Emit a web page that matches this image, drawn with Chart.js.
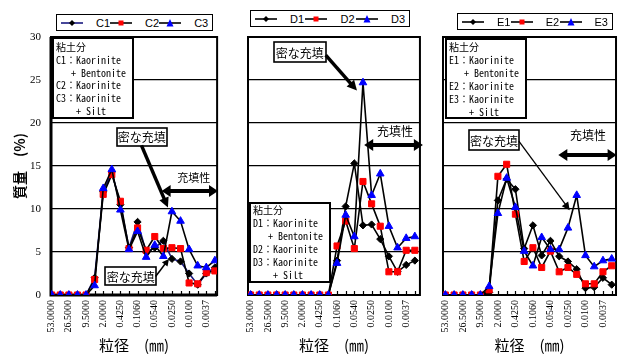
<!DOCTYPE html>
<html lang="ja">
<head>
<meta charset="utf-8">
<title>粒径分布</title>
<script src="https://cdn.jsdelivr.net/npm/chart.js@4.4.1/dist/chart.umd.min.js"></script>
<style>
  html, body { margin: 0; padding: 0; background: #fff; }
  #wrap { position: relative; width: 629px; height: 354px; overflow: hidden; background: #fff; }
  canvas { position: absolute; top: 0; }
  .legend { position: absolute; height: 17px; box-sizing: border-box; border: 1.5px solid #000; background: #fff;
            display: flex; align-items: center; justify-content: space-between; padding: 0 4px;
            font: 11px "Liberation Sans", Arial, sans-serif; color: #000; }
  .legend .item { display: flex; align-items: center; }
  .legend svg { margin-right: 13px; display: block; }
</style>
</head>
<body>
<div id="wrap">
  <canvas id="cvC" width="232" height="354" style="left:0"></canvas>
  <canvas id="cvD" width="200" height="354" style="left:232px"></canvas>
  <canvas id="cvE" width="197" height="354" style="left:432px"></canvas>
  <div class="legend" id="legC" style="left:56px;top:14px;width:157px"></div>
  <div class="legend" id="legD" style="left:250px;top:10px;width:160px"></div>
  <div class="legend" id="legE" style="left:457px;top:13px;width:156px"></div>
</div>
<script>
// Sieve / hydrometer size classes (mm); every second class carries a label
const sizeLabels = ['53.0000', '', '26.5000', '', '9.5000', '', '2.0000', '', '0.4250', '',
                    '0.1060', '', '0.0540', '', '0.0250', '', '0.0100', '', '0.0037', ''];
const massTicks = [0, 5, 10, 15, 20, 25, 30];

// Mass fraction (%) per size class
const namesC = ['C1', 'C2', 'C3'];
const C1 = [0, 0, 0, 0, 0, 2.0, 12.0, 14.3, 10.5, 5.5, 8.5, 5.0, 5.5, 6.3, 4.2, 3.9, 2.5, 1.2, 2.5, 3.2];
const C2 = [0, 0, 0, 0, 0, 1.8, 11.7, 14.0, 10.9, 5.4, 7.8, 5.2, 6.8, 5.4, 5.5, 5.4, 1.4, 1.3, 2.6, 2.8];
const C3 = [0, 0, 0, 0, 0, 1.1, 12.4, 14.6, 9.9, 5.3, 7.4, 4.4, 5.8, 4.5, 9.7, 8.6, 5.3, 3.4, 3.2, 4.0];

const namesD = ['D1', 'D2', 'D3'];
const D1 = [0, 0, 0, 0, 0, 0, 0, 0, 0, 0, 4.0, 10.3, 15.3, 8.1, 8.2, 6.5, 4.5, 2.7, 3.5, 4.0];
const D2 = [0, 0, 0, 0, 0, 0, 0, 0, 0, 0, 5.7, 8.6, 5.4, 13.2, 10.6, 8.0, 2.7, 2.7, 5.2, 5.2];
const D3 = [0, 0, 0, 0, 0, 0, 0, 0, 0, 0, 3.7, 9.3, 6.8, 24.7, 11.6, 14.1, 8.0, 5.5, 6.6, 6.8];

const namesE = ['E1', 'E2', 'E3'];
const E1 = [0, 0, 0, 0, 0, 0.3, 11.0, 13.5, 12.3, 5.4, 8.1, 4.6, 6.3, 4.5, 3.9, 3.0, 0.8, 0.9, 2.0, 1.2];
const E2 = [0, 0, 0, 0, 0, 0.6, 13.8, 15.2, 9.4, 3.9, 5.5, 3.2, 5.1, 2.7, 3.2, 2.4, 1.3, 1.3, 2.7, 3.4];
const E3 = [0, 0, 0, 0, 0, 1.0, 9.5, 13.6, 10.2, 5.1, 3.4, 6.7, 5.3, 5.3, 7.8, 11.6, 4.6, 3.3, 4.0, 4.2];

const MARK = [
  { fill: '#000000', shape: 'rectRot', r: 3.6 },
  { fill: '#ff0000', shape: 'rect', r: 4.3 },
  { fill: '#0000ff', shape: 'triangle', r: 4.4 }
];

function makeDatasets(names, series, firstLine) {
  return names.map((name, k) => ({
    label: name,
    data: series[k].map((v, i) => ({ x: i, y: v })),
    borderColor: k === 0 ? firstLine : '#000000',
    borderWidth: 1.6,
    pointStyle: MARK[k].shape,
    pointRadius: MARK[k].r,
    pointBackgroundColor: MARK[k].fill,
    pointBorderColor: MARK[k].fill,
    pointBorderWidth: 1,
    tension: 0,
    order: 3 - k
  }));
}

// ---- HTML legend built from the datasets ----
function sampleSvg(ds, k) {
  let mark = '';
  if (ds.pointStyle === 'rectRot') mark = `<polygon points="11,2 14,5 11,8 8,5" fill="${ds.pointBackgroundColor}"/>`;
  else if (ds.pointStyle === 'rect') mark = `<rect x="8.5" y="2.5" width="5" height="5" fill="${ds.pointBackgroundColor}"/>`;
  else mark = `<polygon points="11,1 14.5,8.5 7.5,8.5" fill="${ds.pointBackgroundColor}"/>`;
  return `<svg width="22" height="10" viewBox="0 0 22 10"><line x1="0" y1="5" x2="22" y2="5" stroke="${ds.borderColor}" stroke-width="1.6"/>${mark}</svg>`;
}
const htmlLegend = {
  id: 'htmlLegend',
  afterUpdate(chart, args, opts) {
    const box = document.getElementById(opts.containerID);
    if (!box) return;
    box.innerHTML = '';
    chart.data.datasets.forEach((ds, k) => {
      const item = document.createElement('div');
      item.className = 'item';
      item.innerHTML = sampleSvg(ds, k) + `<span>${ds.label}</span>`;
      box.appendChild(item);
    });
  }
};

// ---- plot frame and inward category ticks ----
const frame = {
  id: 'frame',
  beforeDatasetsDraw(chart, args, o) {
    const { ctx, chartArea: a, scales: { x } } = chart;
    ctx.save();
    ctx.strokeStyle = '#000';
    ctx.lineWidth = 2;
    ctx.strokeRect(a.left, a.top, a.right - a.left, a.bottom - a.top);
    ctx.lineWidth = o.axisWidth;
    ctx.beginPath();
    ctx.moveTo(a.left, a.top); ctx.lineTo(a.left, a.bottom); ctx.lineTo(a.right, a.bottom);
    ctx.stroke();
    ctx.lineWidth = 1.2;
    ctx.beginPath();
    x.ticks.forEach(t => {
      const px = Math.round(x.getPixelForValue(t.value)) + 0.5;
      ctx.moveTo(px, a.bottom); ctx.lineTo(px, a.bottom - 4);
    });
    ctx.stroke();
    ctx.restore();
  }
};

// ---- callouts: text boxes and arrows placed in axis units ----
function head(ctx, x0, y0, x1, y1, L, W) {
  const ang = Math.atan2(y1 - y0, x1 - x0);
  ctx.save();
  ctx.translate(x1, y1); ctx.rotate(ang);
  ctx.beginPath(); ctx.moveTo(0, 0); ctx.lineTo(-L, W); ctx.lineTo(-L, -W); ctx.closePath(); ctx.fill();
  ctx.restore();
}
function shaft(ctx, x0, y0, x1, y1, lw, L) {
  const ang = Math.atan2(y1 - y0, x1 - x0);
  ctx.lineWidth = lw;
  ctx.beginPath();
  ctx.moveTo(x0, y0);
  ctx.lineTo(x1 - Math.cos(ang) * L * 0.7, y1 - Math.sin(ang) * L * 0.7);
  ctx.stroke();
}
const notes = {
  id: 'notes',
  afterDraw(chart, args, opts) {
    const { ctx, scales: { x, y } } = chart;
    const X = v => x.getPixelForValue(v), Y = v => y.getPixelForValue(v);
    ctx.save();
    ctx.fillStyle = '#000'; ctx.strokeStyle = '#000'; ctx.lineCap = 'butt';
    for (const n of opts.items) {
      if (n.type === 'box') {
        const l = Math.round(X(n.at[0])), t = Math.round(Y(n.at[1]));
        ctx.fillStyle = '#fff'; ctx.fillRect(l, t, n.w, n.h);
        ctx.fillStyle = '#000'; ctx.lineWidth = 2; ctx.strokeRect(l, t, n.w, n.h);
        ctx.font = n.font; ctx.textAlign = 'left'; ctx.textBaseline = 'middle';
        n.lines.forEach((s, j) => ctx.fillText(s, l + 3, t + n.first + j * n.step));
      } else if (n.type === 'label') {
        const cx = X(n.at[0]), cy = Y(n.at[1]);
        const l = Math.round(cx - n.w / 2), t = Math.round(cy - n.h / 2);
        ctx.fillStyle = '#fff'; ctx.fillRect(l, t, n.w, n.h);
        ctx.fillStyle = '#000'; ctx.lineWidth = 1.6; ctx.strokeRect(l, t, n.w, n.h);
        ctx.font = n.font; ctx.textAlign = 'center'; ctx.textBaseline = 'middle';
        ctx.fillText(n.text, cx, cy + 1);
      } else if (n.type === 'text') {
        ctx.font = n.font; ctx.textAlign = 'center'; ctx.textBaseline = 'middle';
        ctx.fillText(n.text, X(n.at[0]), Y(n.at[1]));
      } else if (n.type === 'arrow') {
        const p = chart.getDatasetMeta(n.to.ds).data[n.to.i];
        const x0 = X(n.from[0]), y0 = Y(n.from[1]);
        const x1 = p.x + n.to.dx, y1 = p.y + n.to.dy;
        shaft(ctx, x0, y0, x1, y1, n.lw, n.head[0]);
        head(ctx, x0, y0, x1, y1, n.head[0], n.head[1]);
      } else if (n.type === 'darrow') {
        const x0 = X(n.from[0]), y0 = Y(n.from[1]), x1 = X(n.to[0]), y1 = Y(n.to[1]);
        const L = n.head[0];
        ctx.lineWidth = n.lw;
        ctx.beginPath(); ctx.moveTo(x0 + L * 0.7, y0); ctx.lineTo(x1 - L * 0.7, y1); ctx.stroke();
        head(ctx, x0, y0, x1, y1, L, n.head[1]);
        head(ctx, x1, y1, x0, y0, L, n.head[1]);
      }
    }
    ctx.restore();
  }
};

const MONO = '10px "Noto Sans Mono CJK JP", "DejaVu Sans Mono", monospace';
const JP12 = '12px "Noto Sans CJK JP", sans-serif';
const JP11 = '11px "Noto Sans CJK JP", sans-serif';

function clayLines(p) {
  return ['粘土分', p + '1：Kaorinite', '   + Bentonite', p + '2：Kaorinite', p + '3：Kaorinite', '    + Silt'];
}

function makeOptions(cfg) {
  return {
    responsive: false,
    animation: false,
    events: [],
    layout: { padding: { top: 37, right: cfg.padRight, left: 0, bottom: 0 } },
    scales: {
      x: {
        type: 'linear', min: cfg.xMin, max: cfg.xMax,
        afterBuildTicks: s => { s.ticks = sizeLabels.map((_, i) => ({ value: i })); },
        afterFit: s => { s.height = 59; },
        grid: { display: false, drawTicks: false },
        border: { display: false },
        ticks: {
          autoSkip: false, minRotation: 90, maxRotation: 90, padding: 5, color: '#000',
          font: { family: '"Liberation Serif", "Times New Roman", serif', size: 10 },
          callback: v => sizeLabels[v] ?? ''
        },
        title: {
          display: true, text: '粒径　(㎜)', color: '#000',
          font: { family: '"Noto Sans CJK JP", sans-serif', size: 15 },
          padding: { top: 0, bottom: 0 }
        }
      },
      y: {
        min: 0, max: 30,
        afterBuildTicks: s => { s.ticks = massTicks.map(v => ({ value: v })); },
        afterFit: s => { s.width = cfg.yWidth; },
        grid: { color: '#000', lineWidth: 1.3, drawTicks: false },
        border: { display: false },
        ticks: {
          display: cfg.yLabels, padding: 10, color: '#000',
          font: { family: '"Liberation Serif", "Times New Roman", serif', size: 11 }
        },
        title: {
          display: cfg.yLabels, text: '質量　(%)', color: '#000',
          font: { family: '"Noto Sans CJK JP", sans-serif', size: 14, weight: 'bold' },
          padding: { top: 11, bottom: 0 }
        }
      }
    },
    plugins: {
      legend: { display: false },
      tooltip: { enabled: false },
      htmlLegend: { containerID: cfg.legend },
      frame: { axisWidth: cfg.axisWidth },
      notes: { items: cfg.notes }
    }
  };
}

const plugins = [htmlLegend, frame, notes];

new Chart(document.getElementById('cvC'), {
  type: 'line',
  data: { datasets: makeDatasets(namesC, [C1, C2, C3], '#1a1a80') },
  options: makeOptions({
    padRight: 9, yWidth: 51, yLabels: true, xMin: -0.08, xMax: 19.26, legend: 'legC', axisWidth: 3,
    notes: [
      { type: 'box', at: [0.15, 29.9], w: 80, h: 80, font: MONO, first: 9, step: 12.9, lines: clayLines('C') },
      { type: 'label', at: [10.5, 18.4], w: 50, h: 18, text: '密な充填', font: JP12 },
      { type: 'arrow', from: [10.45, 17.4], to: { ds: 2, i: 14, dx: -4, dy: -4 }, lw: 3.5, head: [10, 5] },
      { type: 'label', at: [9.2, 2.2], w: 51, h: 18, text: '密な充填', font: JP12 },
      { type: 'arrow', from: [12.1, 2.15], to: { ds: 0, i: 14, dx: -3, dy: 0 }, lw: 1.5, head: [7, 3.5] },
      { type: 'text', at: [16.55, 13.6], text: '充填性', font: JP11 },
      { type: 'darrow', from: [12.8, 12.1], to: [19.36, 12.1], lw: 4, head: [9, 6] }
    ]
  }),
  plugins
});

new Chart(document.getElementById('cvD'), {
  type: 'line',
  data: { datasets: makeDatasets(namesD, [D1, D2, D3], '#000000') },
  options: makeOptions({
    padRight: 5, yWidth: 16, yLabels: false, xMin: -0.3, xMax: 19.59, legend: 'legD', axisWidth: 2,
    notes: [
      { type: 'box', at: [-0.1, 10.7], w: 80, h: 79, font: MONO, first: 7, step: 13, lines: clayLines('D') },
      { type: 'label', at: [5.68, 28.26], w: 52, h: 20, text: '密な充填', font: JP12 },
      { type: 'arrow', from: [8.69, 27.9], to: { ds: 2, i: 13, dx: -6, dy: 8 }, lw: 3.5, head: [10, 5] },
      { type: 'text', at: [16.7, 19.0], text: '充填性', font: JP12 },
      { type: 'darrow', from: [13.14, 17.44], to: [19.93, 17.44], lw: 4, head: [9, 6] }
    ]
  }),
  plugins
});

new Chart(document.getElementById('cvE'), {
  type: 'line',
  data: { datasets: makeDatasets(namesE, [E1, E2, E3], '#000000') },
  options: makeOptions({
    padRight: 11, yWidth: 11, yLabels: false, xMin: -0.27, xMax: 19.49, legend: 'legE', axisWidth: 2,
    notes: [
      { type: 'box', at: [0.11, 29.73], w: 80, h: 79, font: MONO, first: 8.5, step: 12.9, lines: clayLines('E') },
      { type: 'label', at: [5.56, 18.0], w: 50, h: 20, text: '密な充填', font: JP12 },
      { type: 'arrow', from: [8.39, 17.9], to: { ds: 2, i: 15, dx: -7, dy: 15 }, lw: 1.3, head: [8, 4] },
      { type: 'text', at: [16.29, 18.6], text: '充填性', font: JP12 },
      { type: 'darrow', from: [12.9, 16.28], to: [19.56, 16.28], lw: 4, head: [9, 6] }
    ]
  }),
  plugins
});
</script>
</body>
</html>
